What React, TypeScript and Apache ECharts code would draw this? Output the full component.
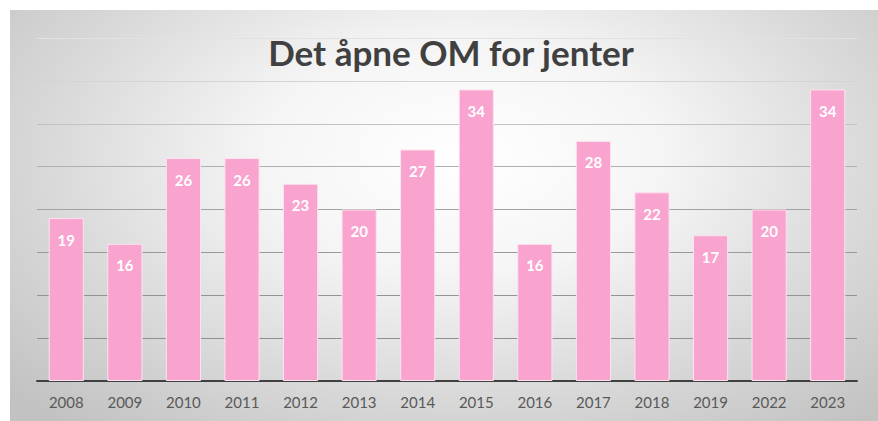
import React, { useEffect, useRef } from "react";
import * as echarts from "echarts";

const TITLE = "Det åpne OM for jenter";
const YEARS = ["2008", "2009", "2010", "2011", "2012", "2013", "2014", "2015", "2016", "2017", "2018", "2019", "2022", "2023"];
const VALUES = [19, 16, 26, 26, 23, 20, 27, 34, 16, 28, 22, 17, 20, 34];
const Y_MIN = 0;
const Y_MAX = 40;
const Y_STEP = 5;

export default function App() {
  const ref = useRef<HTMLDivElement>(null);
  useEffect(() => {
    if (!ref.current) return;
    const chart = echarts.init(ref.current, undefined, { renderer: "svg" });
    chart.setOption({
      animation: false,
      backgroundColor: "transparent",
      title: {
        text: TITLE,
        left: 446,
        textAlign: "center",
        top: 29,
        textStyle: {
          fontFamily: "Lato",
          fontWeight: "bold",
          fontSize: 35,
          color: "#404040",
        },
      },
      grid: { left: 37, right: 21, top: 38, bottom: 40, containLabel: false },
      xAxis: {
        type: "category",
        data: YEARS,
        axisLine: { lineStyle: { color: "#404040", width: 2 } },
        axisTick: { show: false },
        axisLabel: {
          color: "#595959",
          fontFamily: "Lato",
          fontSize: 15,
          margin: 13,
        },
      },
      yAxis: {
        type: "value",
        min: Y_MIN,
        max: Y_MAX,
        interval: Y_STEP,
        axisLabel: { show: false },
        axisLine: { show: false },
        axisTick: { show: false },
        splitLine: {
          lineStyle: {
            color: ["#8f8f8f", "#8f8f8f", "#939393", "#999999", "#a2a2a2", "#b0b0b0", "#c2c2c2", "#d4d4d4", "#e2e2e2"],
            width: 1,
          },
        },
      },
      series: [
        {
          type: "bar",
          data: VALUES,
          barCategoryGap: "40%",
          itemStyle: {
            color: "#F9A3CF",
            borderColor: "#FCE3EF",
            borderWidth: 1,
          },
          label: {
            show: true,
            position: "insideTop",
            distance: 14,
            color: "#ffffff",
            fontFamily: "Lato",
            fontWeight: "bold",
            fontSize: 15,
          },
        },
      ],
    });
    return () => chart.dispose();
  }, []);
  return (
    <div style={{ position: "absolute", left: 0, top: 0, width: 878, height: 421, background: "#ffffff" }}>
      <div
        style={{
          position: "absolute",
          left: 10,
          top: 10,
          width: 868,
          height: 411,
          background:
            "radial-gradient(ellipse 70% 85% at 52% 36%, #ffffff 0%, #f5f5f5 33%, #d9d9d9 68%, #c2c2c2 100%)",
        }}
      />
      <div ref={ref} style={{ position: "absolute", left: 0, top: 0, width: 878, height: 421 }} />
    </div>
  );
}
